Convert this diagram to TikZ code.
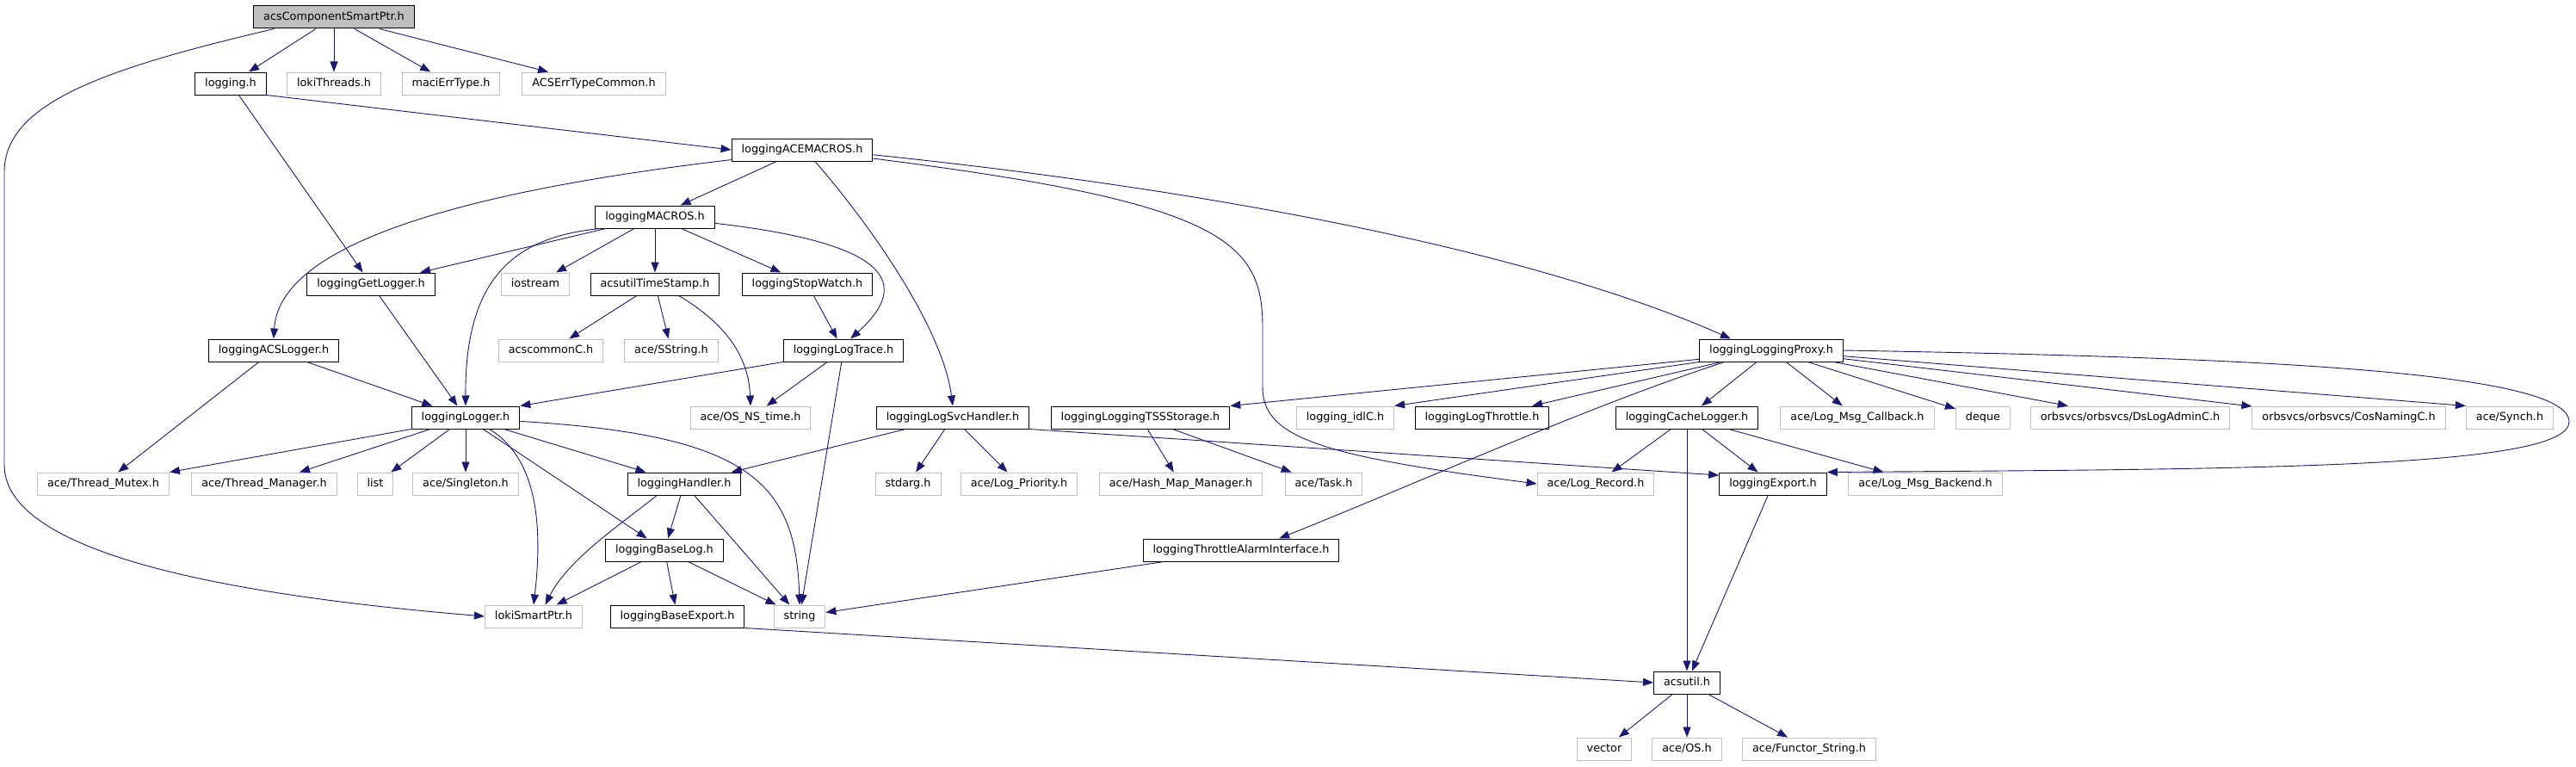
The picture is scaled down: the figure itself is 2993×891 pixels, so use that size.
\documentclass[tikz,border=0pt]{standalone}
\usepackage{fontspec}
\setmainfont{DejaVu Sans}
\usetikzlibrary{arrows.meta}

\definecolor{edgeblue}{RGB}{25,25,112}
\definecolor{extgray}{RGB}{191,191,191}

\tikzset{
  file/.style={rectangle, draw=black, line width=1pt, inner xsep=11.5pt, inner ysep=0pt,
    minimum height=26pt, font=\fontsize{12.8}{14}\selectfont, text height=9.5pt, text depth=3pt},
  extfile/.style={file, draw=extgray},
  topfile/.style={file, fill=extgray},
  inc/.style={draw=edgeblue, line width=0.9pt, -{Triangle[length=12pt,width=9pt]}}
}

\begin{document}
\begin{tikzpicture}[x=1pt, y=-1pt]

\useasboundingbox (0,0) rectangle (2993,891);

% files, one row after the other
\node[topfile] (smartptr) at (388,20) {acsComponentSmartPtr.h};

\node[file] (logging) at (268,97) {logging.h};
\node[extfile] (lokithreads) at (388,97) {lokiThreads.h};
\node[extfile] (macierr) at (524,97) {maciErrType.h};
\node[extfile] (acserr) at (690,97) {ACSErrTypeCommon.h};

\node[file] (acemacros) at (932,174) {loggingACEMACROS.h};

\node[file] (macros) at (761,252) {loggingMACROS.h};

\node[file] (getlogger) at (431,330) {loggingGetLogger.h};
\node[extfile] (iostream) at (622,330) {iostream};
\node[file] (timestamp) at (761,330) {acsutilTimeStamp.h};
\node[file] (stopwatch) at (938,330) {loggingStopWatch.h};

\node[file] (acslogger) at (318,407) {loggingACSLogger.h};
\node[extfile] (acscommon) at (640,407) {acscommonC.h};
\node[extfile] (sstring) at (780,407) {ace/SString.h};
\node[file] (logtrace) at (980,407) {loggingLogTrace.h};
\node[file] (proxy) at (2058,407) {loggingLoggingProxy.h};

\node[file] (logger) at (541,485) {loggingLogger.h};
\node[extfile] (osnstime) at (872,485) {ace/OS\_NS\_time.h};
\node[file] (logsvc) at (1107,485) {loggingLogSvcHandler.h};
\node[file] (tss) at (1325,485) {loggingLoggingTSSStorage.h};
\node[extfile] (idlc) at (1563,485) {logging\_idlC.h};
\node[file] (throttle) at (1722,485) {loggingLogThrottle.h};
\node[file] (cachelogger) at (1960,485) {loggingCacheLogger.h};
\node[extfile] (msgcallback) at (2158,485) {ace/Log\_Msg\_Callback.h};
\node[extfile] (deque) at (2304,485) {deque};
\node[extfile] (dslogadmin) at (2475,485) {orbsvcs/orbsvcs/DsLogAdminC.h};
\node[extfile] (cosnaming) at (2729,485) {orbsvcs/orbsvcs/CosNamingC.h};
\node[extfile] (synch) at (2916,485) {ace/Synch.h};

\node[extfile] (threadmutex) at (120,562) {ace/Thread\_Mutex.h};
\node[extfile] (threadmanager) at (307,562) {ace/Thread\_Manager.h};
\node[extfile] (list) at (436,562) {list};
\node[extfile] (singleton) at (541,562) {ace/Singleton.h};
\node[file] (handler) at (795,562) {loggingHandler.h};
\node[extfile] (stdarg) at (1055,562) {stdarg.h};
\node[extfile] (logpriority) at (1184,562) {ace/Log\_Priority.h};
\node[extfile] (hashmap) at (1372,562) {ace/Hash\_Map\_Manager.h};
\node[extfile] (task) at (1538,562) {ace/Task.h};
\node[extfile] (logrecord) at (1854,562) {ace/Log\_Record.h};
\node[file] (export) at (2060,562) {loggingExport.h};
\node[extfile] (msgbackend) at (2237,562) {ace/Log\_Msg\_Backend.h};

\node[file] (baselog) at (772,639) {loggingBaseLog.h};
\node[file] (alarm) at (1442,639) {loggingThrottleAlarmInterface.h};

\node[extfile] (lokismartptr) at (620,716) {lokiSmartPtr.h};
\node[file] (baseexport) at (787,716) {loggingBaseExport.h};
\node[extfile] (string) at (929,716) {string};

\node[file] (acsutil) at (1960,793) {acsutil.h};

\node[extfile] (vector) at (1864,870) {vector};
\node[extfile] (aceos) at (1960,870) {ace/OS.h};
\node[extfile] (functor) at (2102,870) {ace/Functor\_String.h};

% includes
\draw[inc] (smartptr) -- (logging);
\draw[inc] (smartptr) -- (lokithreads);
\draw[inc] (smartptr) -- (macierr);
\draw[inc] (smartptr) -- (acserr);
\draw[inc] (smartptr.191) .. controls (120,80) and (5,120) .. (5,200) -- (5,540)
  .. controls (5,640) and (250,690) .. (lokismartptr.west);

\draw[inc] (logging.south east) -- (acemacros.west);
\draw[inc] (logging) -- (getlogger);

\draw[inc] (acemacros) -- (macros);
\draw[inc] (acemacros.188) .. controls (600,215) and (325,270) .. (acslogger.north);
\draw[inc] (acemacros.-42) .. controls (1010,260) and (1095,380) .. (logsvc.north);
\draw[inc] (acemacros.-4) .. controls (1450,225) and (1800,300) .. (proxy.164);
\draw[inc] (acemacros.-7) .. controls (1420,235) and (1467,280) .. (1467,380) -- (1467,450)
  .. controls (1467,510) and (1540,530) .. (logrecord.west);

\draw[inc] (macros) -- (getlogger);
\draw[inc] (macros) -- (iostream);
\draw[inc] (macros) -- (timestamp);
\draw[inc] (macros) -- (stopwatch);
\draw[inc] (macros.192) .. controls (600,275) and (540,320) .. (logger.north);
\draw[inc] (macros.-6) .. controls (1010,280) and (1070,320) .. (logtrace.59);

\draw[inc] (getlogger) -- (logger);

\draw[inc] (timestamp) -- (acscommon);
\draw[inc] (timestamp) -- (sstring);
\draw[inc] (timestamp.-26) .. controls (850,380) and (870,420) .. (osnstime.north);

\draw[inc] (stopwatch) -- (logtrace);

\draw[inc] (acslogger) -- (threadmutex);
\draw[inc] (acslogger) -- (logger);

\draw[inc] (logtrace.south west) -- (logger.north east);
\draw[inc] (logtrace) -- (osnstime);
\draw[inc] (logtrace) -- (string);

\draw[inc] (logger.south west) -- (threadmutex.north east);
\draw[inc] (logger) -- (threadmanager);
\draw[inc] (logger) -- (list);
\draw[inc] (logger) -- (singleton);
\draw[inc] (logger) -- (handler);
\draw[inc] (logger) -- (baselog);
\draw[inc] (logger.-26) .. controls (620,530) and (632,600) .. (lokismartptr.north);
\draw[inc] (logger.-4) .. controls (870,505) and (925,560) .. (string.north);

\draw[inc] (logsvc) -- (handler);
\draw[inc] (logsvc) -- (stdarg);
\draw[inc] (logsvc) -- (logpriority);
\draw[inc] (logsvc.south east) -- (export.171);

\draw[inc] (tss) -- (hashmap);
\draw[inc] (tss) -- (task);

\draw[inc] (proxy.187) -- (tss.north east);
\draw[inc] (proxy.south west) -- (idlc.north east);
\draw[inc] (proxy) -- (throttle);
\draw[inc] (proxy.194) .. controls (1850,470) and (1650,560) .. (alarm.17);
\draw[inc] (proxy) -- (cachelogger);
\draw[inc] (proxy) -- (msgcallback);
\draw[inc] (proxy) -- (deque);
\draw[inc] (proxy) -- (dslogadmin);
\draw[inc] (proxy) -- (cosnaming);
\draw[inc] (proxy) -- (synch.north west);
\draw[inc] (proxy.east) .. controls (2600,415) and (2985,430) .. (2985,490)
  .. controls (2985,545) and (2600,545) .. (export.north east);

\draw[inc] (cachelogger) -- (logrecord);
\draw[inc] (cachelogger) -- (export);
\draw[inc] (cachelogger) -- (msgbackend);
\draw[inc] (cachelogger) -- (acsutil);

\draw[inc] (handler) -- (baselog);
\draw[inc] (handler.203) .. controls (720,610) and (660,650) .. (lokismartptr.45);
\draw[inc] (handler) -- (string);

\draw[inc] (export) -- (acsutil);

\draw[inc] (baselog) -- (lokismartptr);
\draw[inc] (baselog) -- (baseexport);
\draw[inc] (baselog) -- (string);

\draw[inc] (alarm) -- (string);

\draw[inc] (baseexport.south east) -- (acsutil.west);

\draw[inc] (acsutil) -- (vector);
\draw[inc] (acsutil) -- (aceos);
\draw[inc] (acsutil) -- (functor);

\end{tikzpicture}
\end{document}
